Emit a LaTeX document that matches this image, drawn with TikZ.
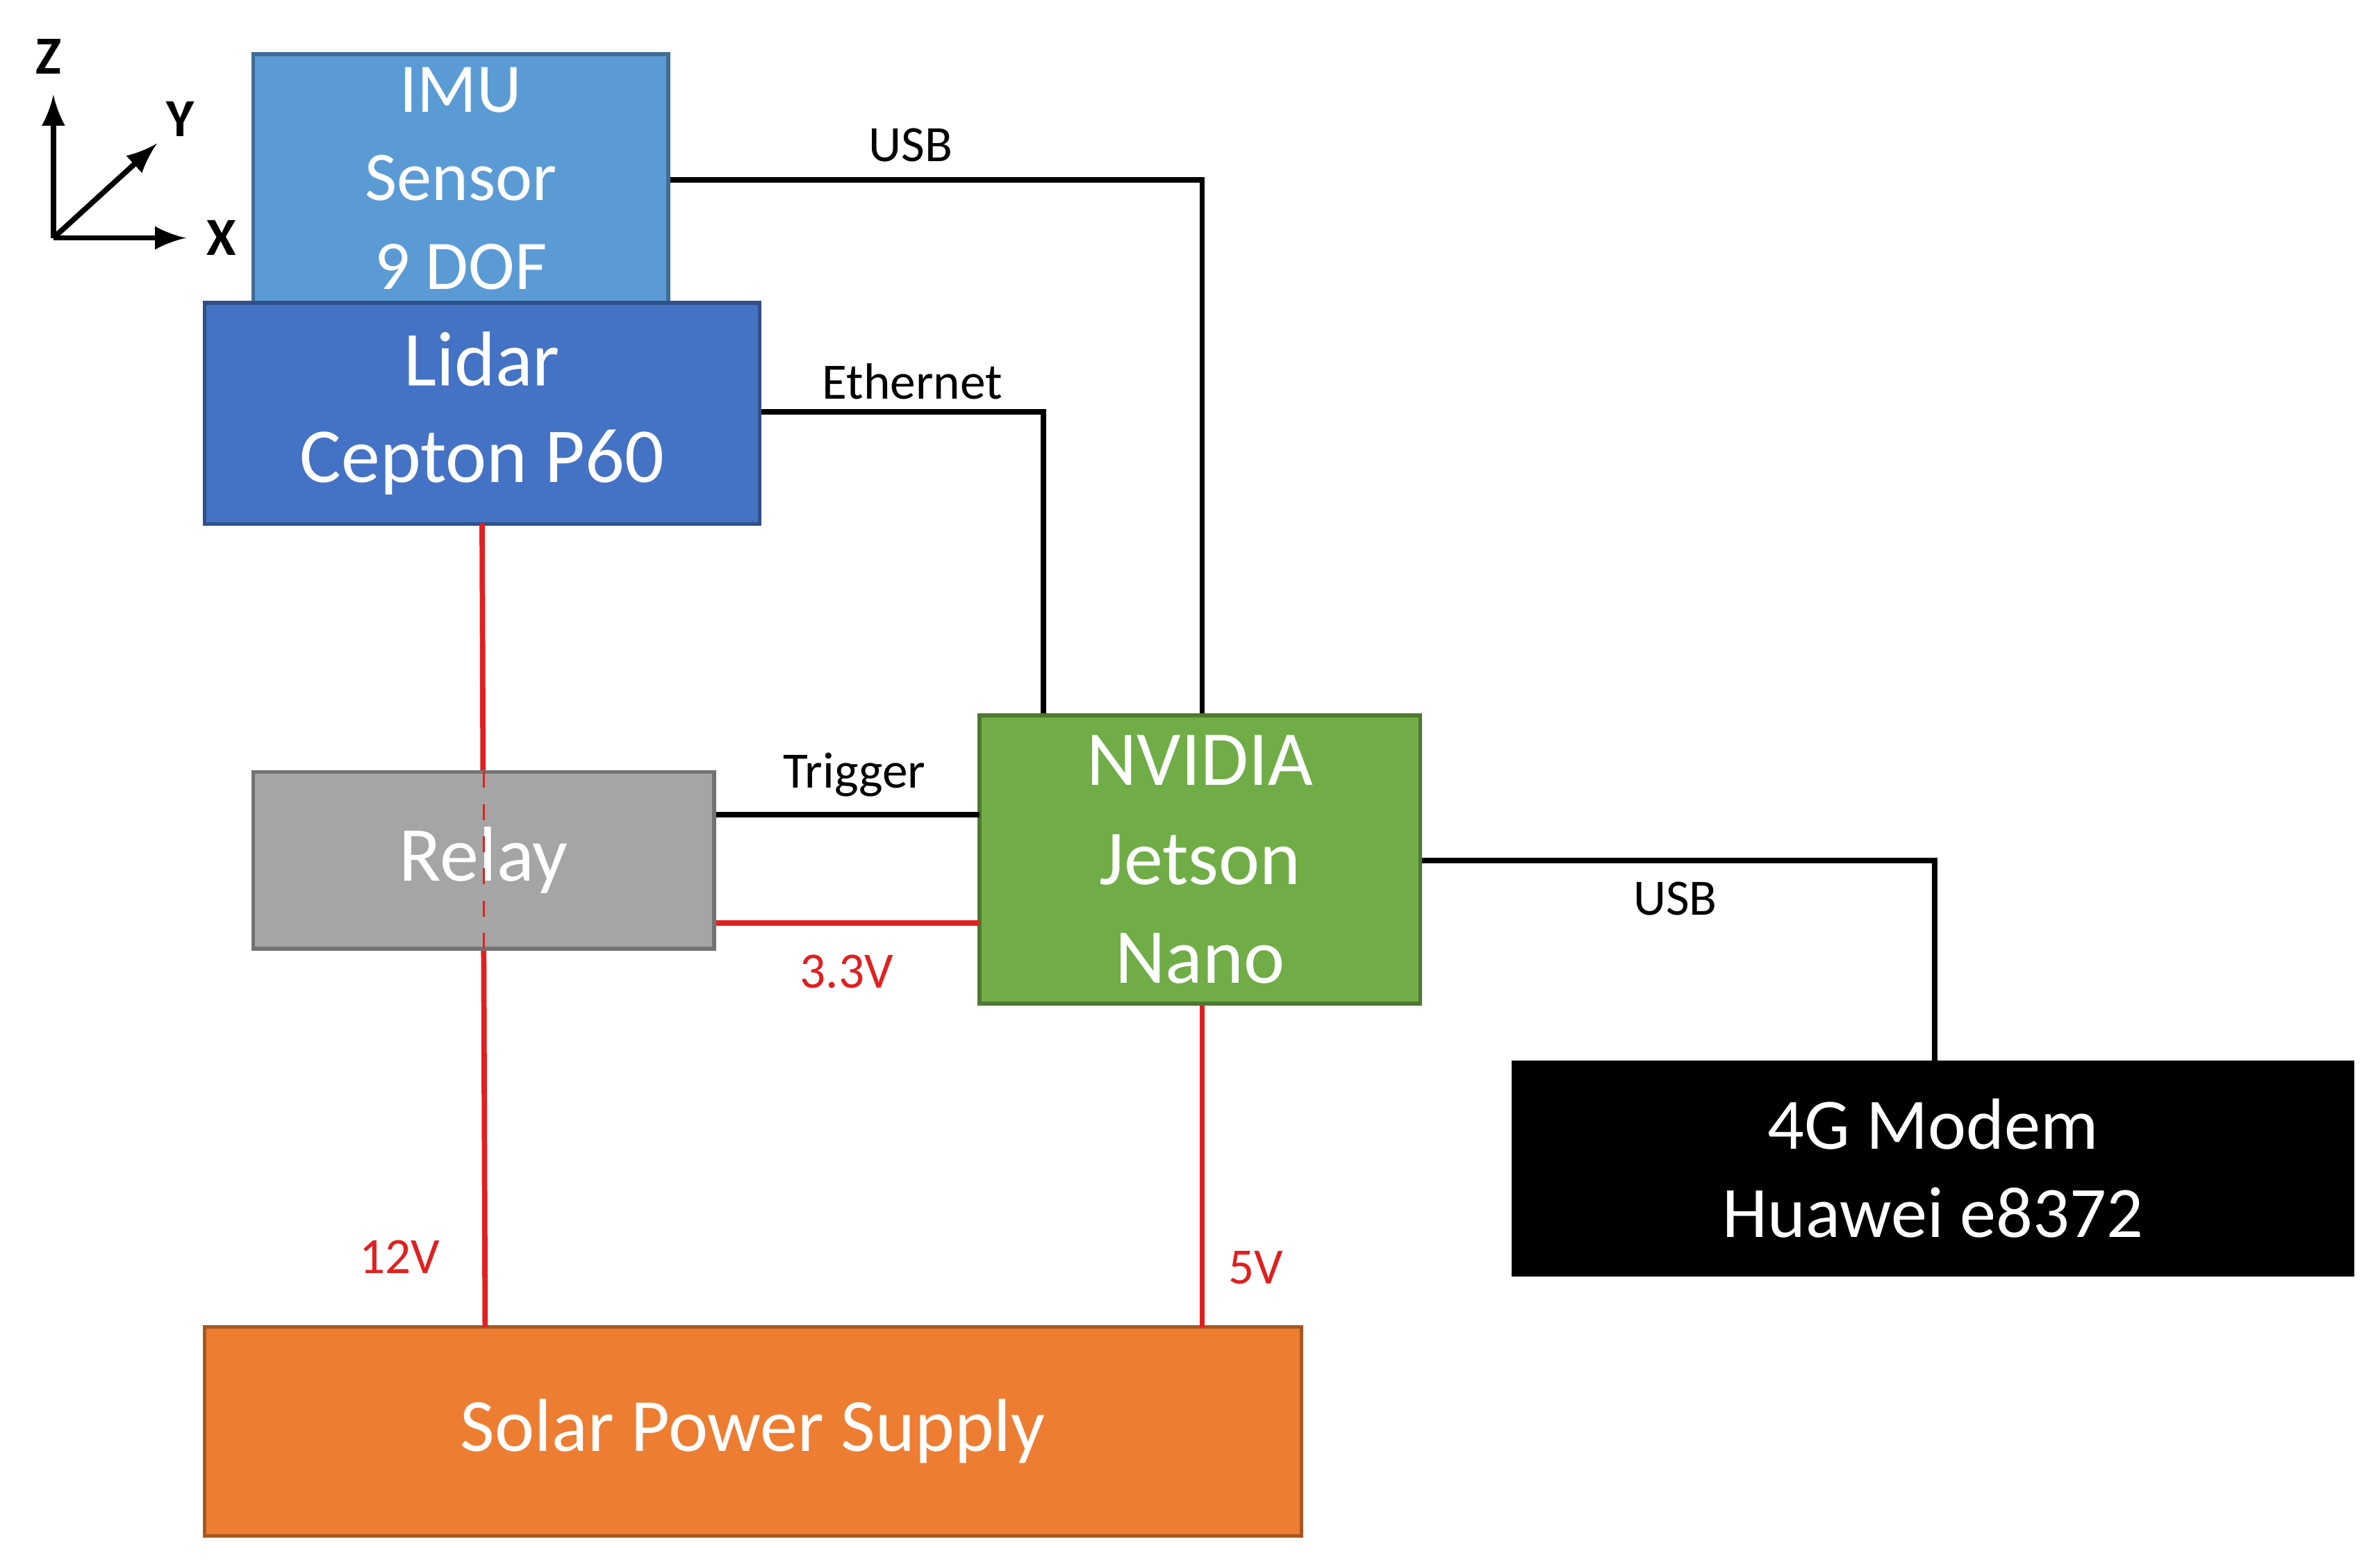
\documentclass[tikz,border=0pt]{standalone}
\usepackage{fontspec}
\setmainfont{Carlito}
\definecolor{imublue}{HTML}{5B9BD5}
\definecolor{lidarblue}{HTML}{4472C4}
\definecolor{relaygray}{HTML}{A5A5A5}
\definecolor{nanogreen}{HTML}{70AD47}
\definecolor{solarorange}{HTML}{ED7D31}
\definecolor{wirered}{HTML}{E02020}
\begin{document}
\begin{tikzpicture}[x=0.01cm,y=-0.01cm,
    box/.style={draw,line width=0.7pt,inner sep=0pt,align=center,text=white},
    wire/.style={line width=1pt},
    power/.style={wire,wirered},
    lbl/.style={font=\fontsize{9.5}{11}\selectfont},
    rlbl/.style={lbl,text=wirered},
    axis/.style={line width=1pt,-latex}]
    \useasboundingbox (0,0) rectangle (1560,1024);

    % boxes
    \node[box,fill=imublue,draw=imublue!70!black,minimum width=272*0.01cm,minimum height=163*0.01cm,
      font=\fontsize{13}{16.5}\selectfont] (imu) at (302,117) {IMU\\Sensor\\9 DOF};
    \node[box,fill=lidarblue,draw=lidarblue!70!black,minimum width=364*0.01cm,minimum height=145*0.01cm,
      font=\fontsize{14.5}{18}\selectfont] (lidar) at (316,271) {Lidar\\Cepton P60};
    \node[box,fill=nanogreen,draw=nanogreen!70!black,minimum width=289*0.01cm,minimum height=189*0.01cm,
      font=\fontsize{14.5}{18.5}\selectfont] (nano) at (786.5,563.5) {NVIDIA\\Jetson\\Nano};
    \node[box,fill=black,draw=black,minimum width=550*0.01cm,minimum height=139*0.01cm,
      font=\fontsize{13.5}{16.5}\selectfont] (modem) at (1267,766) {4G Modem\\Huawei e8372};
    \node[box,fill=solarorange,draw=solarorange!70!black,minimum width=719*0.01cm,minimum height=137*0.01cm,
      font=\fontsize{14}{17}\selectfont] (solar) at (493.5,938.5) {Solar Power Supply};

    % 12V line runs behind the relay
    \coordinate (lidarpwr) at (316,343);
    \coordinate (solarpwr) at (318,870);
    \draw[power] (lidarpwr) -- (solarpwr);
    \node[box,fill=relaygray,draw=relaygray!70!black,minimum width=302*0.01cm,minimum height=116*0.01cm,
      font=\fontsize{14.5}{18}\selectfont] (relay) at (317,564) {Relay};
    \draw[wirered,line width=0.4pt,dashed] (317,506) -- (317,622);

    % data links
    \coordinate (usbA) at (788,118);
    \draw[wire] (imu.east |- usbA) -- (usbA) -- (nano.north -| usbA);
    \node[lbl] at (597,95) {USB};
    \coordinate (ethA) at (684,270);
    \draw[wire] (lidar.east |- ethA) -- (ethA) -- (nano.north -| ethA);
    \node[lbl] at (598,250) {Ethernet};
    \coordinate (trig) at (642,534);
    \draw[wire] (relay.east |- trig) -- (trig);
    \node[lbl] at (560,508) {Trigger};
    \coordinate (usbB) at (1268,564);
    \draw[wire] (nano.east |- usbB) -- (usbB) -- (modem.north -| usbB);
    \node[lbl] at (1098,589) {USB};

    % power links
    \coordinate (v33) at (642,605);
    \draw[power] (relay.east |- v33) -- (v33);
    \node[rlbl] at (555,637) {3.3V};
    \coordinate (v5) at (788,870);
    \draw[power] (nano.south -| v5) -- (v5);
    \node[rlbl] at (823,831) {5V};
    \node[rlbl] at (262,824) {12V};

    % axes
    \coordinate (o) at (35,156);
    \coordinate (az) at (35,62);
    \coordinate (ax) at (122,156);
    \coordinate (ay) at (103,94);
    \draw[axis] (o) -- (az);
    \draw[axis] (o) -- (ax);
    \draw[axis] (o) -- (ay);
    \node[font=\fontsize{10}{12}\bfseries\selectfont] (zl) at (32,37) {Z};
    \node[font=\fontsize{10}{12}\bfseries\selectfont] (xl) at (145,156) {X};
    \node[font=\fontsize{10}{12}\bfseries\selectfont] (yl) at (118,78) {Y};
\end{tikzpicture}
\end{document}
